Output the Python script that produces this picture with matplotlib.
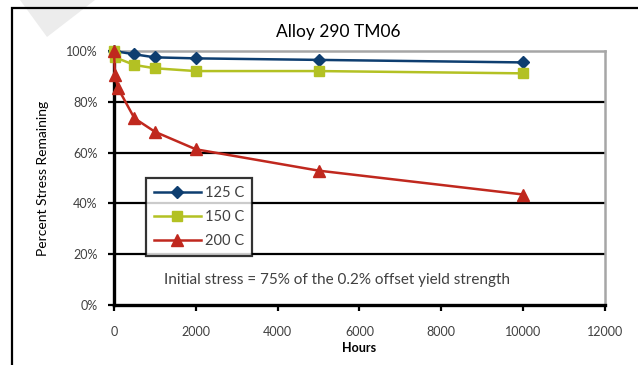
import numpy as np
import matplotlib
matplotlib.use("Agg")
import matplotlib.pyplot as plt
from matplotlib.patches import Polygon, Rectangle

# ---- data ----
hours_125 = [0, 500, 1000, 2000, 5000, 10000]
pct_125 = [100, 98.7, 97.5, 97.1, 96.5, 95.5]
hours_150 = [0, 24, 500, 1000, 2000, 5000, 10000]
pct_150 = [100, 97.5, 94.5, 93.2, 92.1, 92.1, 91.2]
hours_200 = [0, 24, 100, 500, 1000, 2000, 5000, 10000]
pct_200 = [100, 90.5, 85.3, 73.5, 68.2, 61.3, 52.9, 43.5]

series = [("125 C", hours_125, pct_125, "#0e3e70", "D", 6.5),
          ("150 C", hours_150, pct_150, "#b3c123", "s", 7.5),
          ("200 C", hours_200, pct_200, "#c0281e", "^", 8.5)]

xticks = [0, 2000, 4000, 6000, 8000, 10000, 12000]
yticks = [0, 20, 40, 60, 80, 100]

plt.rcParams["font.family"] = ["Lato", "DejaVu Sans"]

W, H = 638, 365
fig = plt.figure(figsize=(W / 100, H / 100), dpi=100)

# faint watermark triangle and the clipped outer chart frame
fig.patches.append(Polygon([(20 / W, 1), (95 / W, 1), (47 / W, 1 - 37 / H)], closed=True,
                           transform=fig.transFigure, facecolor="#ececec", edgecolor="none", zorder=0))
fig.patches.append(Rectangle((12 / W, -0.2), 1.2, 1 - 8 / H + 0.2, transform=fig.transFigure,
                             fill=False, edgecolor="black", lw=1.6, zorder=1))

ax = fig.add_axes([114 / W, 1 - 305 / H, (605 - 114) / W, (305 - 51) / H])
ax.set_xlim(0, 12000)
ax.set_ylim(0, 100)

for y in yticks[1:-1]:
    ax.axhline(y, color="black", lw=1.6, zorder=1)

for lab, x, y, c, m, ms in series:
    ax.plot(x, y, color=c, lw=1.8, marker=m, ms=ms, mfc=c, mec=c, label=lab, zorder=3, clip_on=False)

ax.spines["left"].set_linewidth(2.4)
ax.spines["bottom"].set_linewidth(2.4)
for s in ("top", "right"):
    ax.spines[s].set_color("#a6a6a6")
    ax.spines[s].set_linewidth(1.8)

ax.set_xticks(xticks)
ax.set_xticklabels([str(t) for t in xticks])
ax.set_yticks(yticks)
ax.set_yticklabels([f"{t}%" for t in yticks])
ax.tick_params(axis="both", direction="out", length=4, width=1.6, labelsize=9,
               labelcolor="#404040", color="black")
ax.tick_params(axis="x", pad=11)
ax.tick_params(axis="y", pad=8)

ax.set_xlabel("Hours", fontsize=9, fontweight="bold", labelpad=3)
ax.set_ylabel("Percent Stress Remaining", fontsize=10, labelpad=12)

fig.text(338 / W, 1 - 32 / H, "Alloy 290 TM06", ha="center", va="center", fontsize=12.5)

ax.text(0.455, 0.1, "Initial stress = 75% of the 0.2% offset yield strength",
        transform=ax.transAxes, ha="center", va="center", fontsize=11, color="#404040")

leg = ax.legend(loc="upper left", bbox_to_anchor=((146 - 114) / (605 - 114), (305 - 178) / (305 - 51)),
                frameon=True, fancybox=False, fontsize=10.5, handlelength=3.2, borderpad=0.55,
                labelspacing=0.7, handletextpad=0.3, borderaxespad=0)
leg.get_frame().set_edgecolor("black")
leg.get_frame().set_linewidth(1.6)
for t in leg.get_texts():
    t.set_color("#404040")

fig.savefig("out.png", dpi=100)
